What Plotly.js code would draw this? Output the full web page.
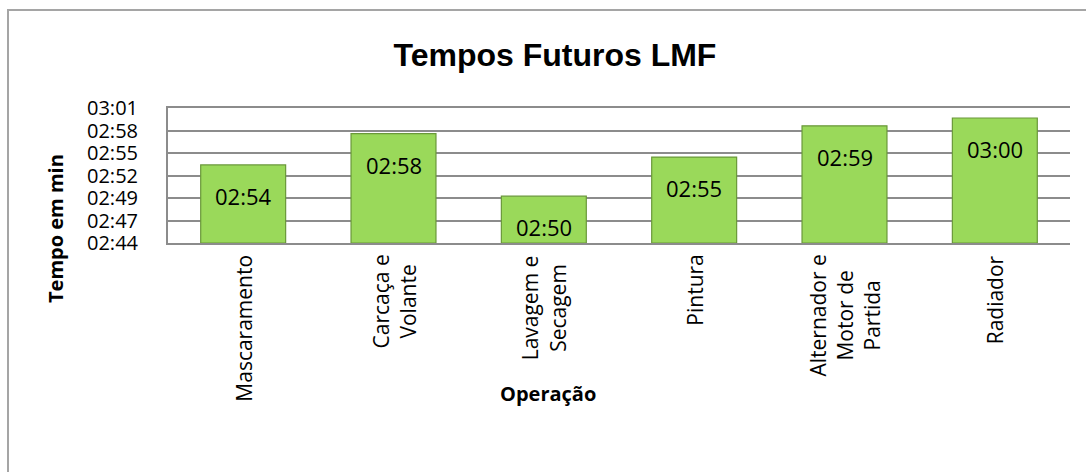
<!DOCTYPE html>
<html>
<head>
<meta charset="utf-8">
<script src="https://cdn.plot.ly/plotly-3.0.1.min.js"></script>
<style>
  html, body { margin: 0; padding: 0; background: #fff; overflow: hidden; }
  #wrap { position: relative; width: 1086px; height: 472px; }
  #chart { position: absolute; left: 0; top: 0; width: 1086px; height: 472px; }
  #frame { position: absolute; left: 7px; top: 9px; width: 1200px; height: 600px;
           border: 2px solid #a5a5a5; pointer-events: none; box-sizing: border-box; }
</style>
</head>
<body>
<div id="wrap">
  <div id="chart"></div>
  <div id="frame"></div>
</div>
<script>
// Categories (operations)
const categories = ['Mascaramento', 'Carcaça e Volante', 'Lavagem e Secagem', 'Pintura', 'Alternador e Motor de Partida', 'Radiador'];
// Axis tick text for categories (wrapped as in the reference)
const categoryLabels = ['Mascaramento', 'Carcaça e<br>Volante', 'Lavagem e<br>Secagem', 'Pintura', 'Alternador e<br>Motor de<br>Partida', 'Radiador'];
// Times in minutes (hh:mm of Excel time)
const tempos = [174, 178, 170, 175, 179, 180];
// Y-axis ticks (minutes) and their labels
const yTickValues = [164, 166.88, 169.76, 172.64, 175.52, 178.4, 181.28];
const yTickLabels = ['02:44', '02:47', '02:49', '02:52', '02:55', '02:58', '03:01'];
const yMin = 164, yMax = 181.28;

function fmt(v) {
  const h = Math.floor(v / 60 + 1e-9);
  const m = Math.floor(v - h * 60 + 1e-9);
  return String(h).padStart(2, '0') + ':' + String(m).padStart(2, '0');
}

const FONT = 'Open Sans, Liberation Sans, sans-serif';

const trace = {
  type: 'bar',
  x: categories,
  y: tempos.map(v => v - yMin),
  base: yMin,
  marker: { color: '#9AD95A', line: { color: '#6A983A', width: 1.2 } },
  hoverinfo: 'skip'
};

const labelAnnotations = categories.map((c, i) => ({
  x: c, y: tempos[i], xref: 'x', yref: 'y',
  text: fmt(tempos[i]), showarrow: false, yshift: -31,
  font: { family: FONT, size: 22, color: '#000' }
}));

// Category labels drawn at the category positions, rotated, lines centred
const catAnnotations = categories.map((c, i) => ({
  x: c, xref: 'x', y: 0, yref: 'paper',
  text: categoryLabels[i], textangle: -90, align: 'center',
  showarrow: false, xanchor: 'center', yanchor: 'top', yshift: -10,
  font: { family: FONT, size: 21, color: '#000' }
}));

const layout = {
  width: 1086, height: 472,
  margin: { l: 168, r: 16, t: 108, b: 229, pad: 0 },
  paper_bgcolor: '#fff', plot_bgcolor: '#fff',
  showlegend: false,
  bargap: 0.435,
  title: { text: '<b>Tempos Futuros LMF</b>', x: 0.511, xanchor: 'center', y: 0.883, yanchor: 'middle',
           font: { family: 'Liberation Sans, Arial, sans-serif', size: 32, color: '#000' } },
  xaxis: {
    type: 'category',
    showticklabels: false,
    ticks: '',
    showline: true, mirror: true, linecolor: '#8c8c8c', linewidth: 2,
    showgrid: false, zeroline: false, fixedrange: true
  },
  yaxis: {
    range: [yMin, yMax],
    tickvals: yTickValues, ticktext: yTickLabels,
    tickfont: { family: FONT, size: 20, color: '#000' },
    ticks: '', ticklabelstandoff: 24,
    showgrid: true, gridcolor: '#8c8c8c', gridwidth: 2,
    showline: true, linecolor: '#8c8c8c', linewidth: 2,
    zeroline: false, fixedrange: true
  },
  annotations: labelAnnotations.concat(catAnnotations, [
    { text: '<b>Tempo em min</b>', xref: 'paper', yref: 'paper',
      x: (55 - 168) / 902, y: (243 - 229) / 135, textangle: -90, showarrow: false,
      xanchor: 'center', yanchor: 'middle',
      font: { family: FONT, size: 20, color: '#000' } },
    { text: '<b>Operação</b>', xref: 'paper', yref: 'paper',
      x: (548 - 168) / 902, y: (243 - 393) / 135, showarrow: false,
      xanchor: 'center', yanchor: 'middle',
      font: { family: FONT, size: 20, color: '#000' } }
  ])
};

Plotly.newPlot('chart', [trace], layout, { displayModeBar: false, staticPlot: true });
</script>
</body>
</html>
